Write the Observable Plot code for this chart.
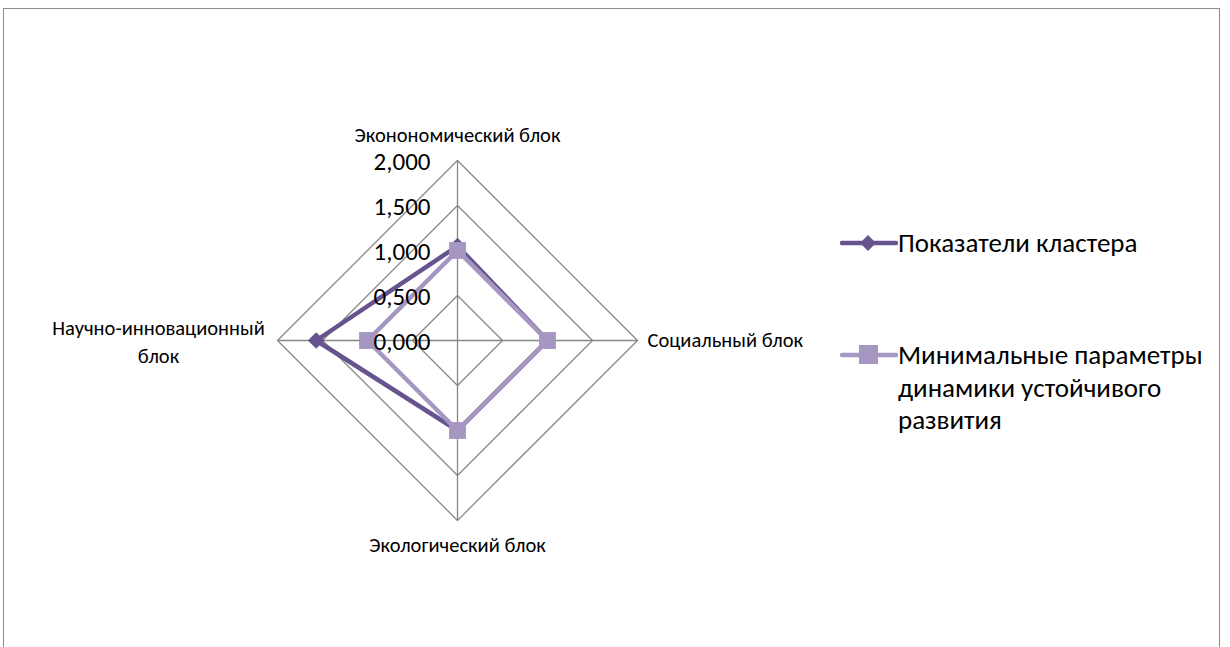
<!DOCTYPE html>
<html>
<head>
<meta charset="utf-8">
<script src="https://cdn.jsdelivr.net/npm/d3@7"></script>
<script src="https://cdn.jsdelivr.net/npm/@observablehq/plot@0.6"></script>
<style>
  html, body { margin: 0; padding: 0; background: #fff; }
  body { width: 1230px; height: 647px; position: relative; overflow: hidden;
         font-family: Carlito, Calibri, "Open Sans", "Noto Sans", sans-serif; }
  #frame { position: absolute; left: 3px; top: 8px; width: 1217px; height: 700px;
           border: 1px solid #8c8c8c; box-sizing: border-box; }
  #chart { position: absolute; left: 0; top: 0; }
  #legend { position: absolute; left: 840px; top: 0; }
  .item { position: absolute; left: 0; display: flex; align-items: flex-start; white-space: nowrap; }
  .item svg { flex: none; }
  .item span { font-size: 27px; line-height: 32.5px; color: #000; }
</style>
</head>
<body>
<div id="frame"></div>
<div id="chart"></div>
<div id="legend"></div>
<script>
// Axes of the radar, clockwise from the top
const categories = ["Эконономический блок", "Социальный блок", "Экологический блок", "Научно-инновационный блок"];
const seriesNames = ["Показатели кластера", "Минимальные параметры динамики устойчивого развития"];
const clusterValues = [1.05, 1.0, 1.0, 1.57];
const minimumValues = [1.0, 1.0, 1.0, 1.0];
const ringValues = [0.5, 1.0, 1.5, 2.0];
const tickValues = [0, 0.5, 1.0, 1.5, 2.0];
const tickLabels = ["0,000", "0,500", "1,000", "1,500", "2,000"];

const colors = ["#67548f", "#a697c2"];
const gridColor = "#878787";
const W = 1230, H = 647;
const cx = 457, cy = 340, pxPerUnit = 90;

const angle = i => (i * 2 * Math.PI) / categories.length;
const px = (i, v) => v * Math.sin(angle(i));
const py = (i, v) => v * Math.cos(angle(i));

// Rings and spokes
const rings = ringValues.flatMap(r =>
  categories.concat(categories[0]).map((_, k) => ({ r, x: px(k % 4, r), y: py(k % 4, r) }))
);
const spokes = categories.map((c, i) => ({ x1: 0, y1: 0, x2: px(i, 2), y2: py(i, 2) }));

// Series points
function seriesRows(vals, name) {
  return vals.map((v, i) => ({ name, cat: categories[i], v, x: px(i, v), y: py(i, v) }));
}
const s1 = seriesRows(clusterValues, seriesNames[0]);
const s2 = seriesRows(minimumValues, seriesNames[1]);
const closed = rows => rows.concat([rows[0]]);

const ticks = tickValues.map((v, i) => ({ v, label: tickLabels[i] }));

const labelRows = categories.map((c, i) => ({ c, i, x: px(i, 2), y: py(i, 2) }));

// Diamond marker; size is the symbol's area
const diamond = {
  draw(ctx, size) {
    const s = Math.sqrt(size / 2) * 0.95;
    ctx.moveTo(0, -s); ctx.lineTo(s, 0); ctx.lineTo(0, s); ctx.lineTo(-s, 0); ctx.closePath();
  }
};

const font = 'Carlito, Calibri, "Open Sans", "Noto Sans", sans-serif';
const plot = Plot.plot({
  width: W, height: H,
  margin: 0,
  x: { domain: [-cx / pxPerUnit, (W - cx) / pxPerUnit], axis: null },
  y: { domain: [-(H - cy) / pxPerUnit, cy / pxPerUnit], axis: null },
  style: { fontFamily: font, background: "transparent" },
  marks: [
    Plot.line(rings, { x: "x", y: "y", z: "r", stroke: gridColor, strokeWidth: 1.3 }),
    Plot.link(spokes, { x1: "x1", y1: "y1", x2: "x2", y2: "y2", stroke: gridColor, strokeWidth: 1.3 }),
    Plot.line(closed(s1), { x: "x", y: "y", stroke: colors[0], strokeWidth: 4.5, strokeLinejoin: "round" }),
    Plot.dot(s1, { x: "x", y: "y", symbol: diamond, r: 7, fill: colors[0], stroke: "none" }),
    Plot.line(closed(s2), { x: "x", y: "y", stroke: colors[1], strokeWidth: 4.5, strokeLinejoin: "round" }),
    Plot.dot(s2, { x: "x", y: "y", symbol: "square", r: 9.5, fill: colors[1], stroke: "none" }),
    Plot.text(ticks, { x: 0, y: "v", text: "label", textAnchor: "end", dx: -27, dy: 1, fontSize: 25, fill: "#000" }),
    // Category labels
    Plot.text(labelRows.filter(d => d.i === 0), { x: "x", y: "y", text: "c", dy: -25, fontSize: 20.5, fill: "#000" }),
    Plot.text(labelRows.filter(d => d.i === 1), { x: "x", y: "y", text: "c", dx: 10, textAnchor: "start", fontSize: 20.5, fill: "#000" }),
    Plot.text(labelRows.filter(d => d.i === 2), { x: "x", y: "y", text: "c", dy: 25, fontSize: 20.5, fill: "#000" }),
    Plot.text(labelRows.filter(d => d.i === 3), { x: "x", y: "y", text: d => d.c.replace(" ", "\n"), dx: -119, lineHeight: 1.36, fontSize: 20.5, fill: "#000" })
  ]
});
document.getElementById("chart").appendChild(plot);

// Legend
const legend = d3.select("#legend");
const legendItems = [
  { name: seriesNames[0], color: colors[0], shape: "diamond", top: 227, lines: ["Показатели кластера"] },
  { name: seriesNames[1], color: colors[1], shape: "square", top: 339, lines: ["Минимальные параметры", "динамики устойчивого", "развития"] }
];
legendItems.forEach(it => {
  const row = legend.append("div").attr("class", "item").style("top", it.top + "px");
  const svg = row.append("svg").attr("width", 58).attr("height", 32);
  svg.append("line").attr("x1", 2).attr("x2", 56).attr("y1", 16).attr("y2", 16)
    .attr("stroke", it.color).attr("stroke-width", 4.5).attr("stroke-linecap", "round");
  if (it.shape === "diamond") {
    svg.append("path").attr("d", "M28,8 L36,16 L28,24 L20,16 Z").attr("fill", it.color);
  } else {
    svg.append("rect").attr("x", 19).attr("y", 6).attr("width", 19).attr("height", 19).attr("fill", it.color);
  }
  row.append("span").html(it.lines.join("<br>"));
});
</script>
</body>
</html>
